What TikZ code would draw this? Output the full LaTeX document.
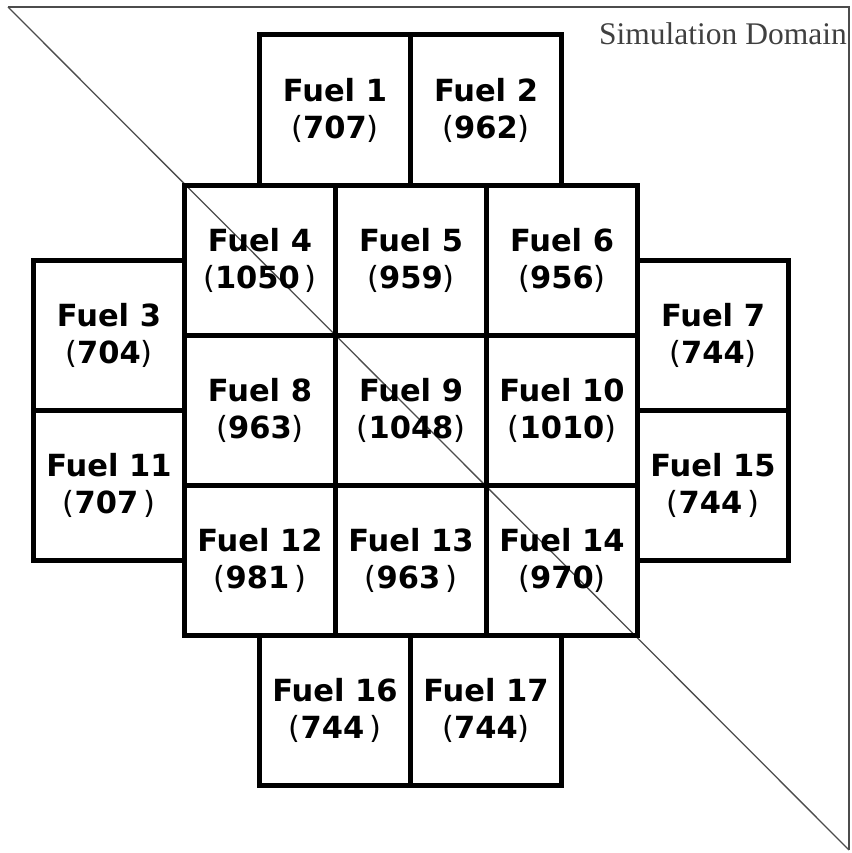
\documentclass[tikz,border=0pt]{standalone}
\usepackage{fontspec}
\setmainfont{DejaVu Sans}
\newfontfamily\domainfont{Liberation Serif}
\newcommand{\lpar}{{\mdseries(}}
\newcommand{\rpar}{{\mdseries)}}
\begin{document}
\begin{tikzpicture}[x=1pt,y=-1pt,
  cell/.style={draw=black, line width=5pt, minimum width=151pt, minimum height=150pt,
    inner sep=0pt, outer sep=0pt, align=center,
    font=\fontsize{30.5}{37}\selectfont\bfseries},
  domainline/.style={draw=black!70, line width=1.6pt}]
\useasboundingbox (0,0) rectangle (851,853);
\coordinate (tl) at (8,7);
\coordinate (tr) at (849,7);
\coordinate (br) at (849,850);
\draw[domainline] (tl) -- (tr) -- (br);
\draw[domainline, line width=1.3pt] (tl) -- (br);
% top row
\node[cell] (f1) at (335,110) {Fuel 1\\\lpar707\rpar};
\node[cell] (f2) at (486,110) {Fuel 2\\\lpar962\rpar};
% row 2
\node[cell] (f4) at (260,260) {Fuel 4\\\lpar1050\,\rpar};
\node[cell] (f5) at (411,260) {Fuel 5\\\lpar959\rpar};
\node[cell] (f6) at (562,260) {Fuel 6\\\lpar956\rpar};
% sides upper
\node[cell] (f3) at (109,335) {Fuel 3\\\lpar704\rpar};
\node[cell] (f7) at (713,335) {Fuel 7\\\lpar744\rpar};
% row 3
\node[cell] (f8) at (260,410) {Fuel 8\\\lpar963\rpar};
\node[cell] (f9) at (411,410) {Fuel 9\\\lpar1048\rpar};
\node[cell] (f10) at (562,410) {Fuel 10\\\lpar1010\rpar};
% sides lower
\node[cell] (f11) at (109,485) {Fuel 11\\\lpar707\,\rpar};
\node[cell] (f15) at (713,485) {Fuel 15\\\lpar744\,\rpar};
% row 4
\node[cell] (f12) at (260,560) {Fuel 12\\\lpar981\,\rpar};
\node[cell] (f13) at (411,560) {Fuel 13\\\lpar963\,\rpar};
\node[cell] (f14) at (562,560) {Fuel 14\\\lpar970\rpar};
% bottom row
\node[cell] (f16) at (335,710) {Fuel 16\\\lpar744\,\rpar};
\node[cell] (f17) at (486,710) {Fuel 17\\\lpar744\rpar};
% label
\node[anchor=base east, inner sep=0pt, text=black!75,
  font=\domainfont\fontsize{31.5}{36}\selectfont] (dom) at (847,45) {Simulation Domain};
\end{tikzpicture}
\end{document}
